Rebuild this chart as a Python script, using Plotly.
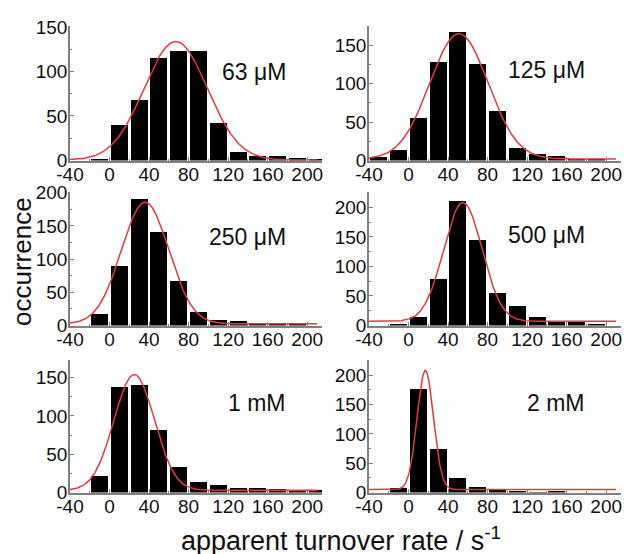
import numpy as np
import plotly.graph_objects as go

# ---------------- data ----------------
bin_start = [-40, -20, 0, 20, 40, 60, 80, 100, 120, 140, 160, 180, 200]
bin_width = 20

labels = ["63 μM", "125 μM", "250 μM", "500 μM", "1 mM", "2 mM"]

counts_63uM = [0, 1.5, 40, 68, 115, 123, 123, 42, 10, 5, 5, 3, 1.5]
counts_125uM = [4, 14, 55, 128, 167, 126, 65, 16, 8, 6, 1, 1, 0]
counts_250uM = [0, 17, 90, 191, 141, 67, 21, 9, 7, 2.5, 2.5, 1.5, 0]
counts_500uM = [0, 1, 14, 78, 211, 144, 55, 33, 15, 6, 6, 1, 0]
counts_1mM = [0, 21, 138, 141, 81, 33, 14, 9.5, 5.5, 5.5, 4.5, 3.5, 3.5]
counts_2mM = [0, 7, 176, 75, 24, 10, 4, 3, 0.5, 3, 0, 0, 0]
all_counts = [counts_63uM, counts_125uM, counts_250uM, counts_500uM, counts_1mM, counts_2mM]

# Gaussian fit parameters
fit_center = [67, 51, 36, 55, 25, 17]
fit_sigma = [32, 29.5, 24, 19.5, 20.5, 8.3]
fit_amp = [133, 163, 183, 201, 151, 203]
fit_base = [0.5, 2, 2.5, 7, 3, 5]
fit_xmin, fit_xmax = -40, 210

y_max = [151, 175, 201, 226, 173, 226]
x_ticks = [-40, 0, 40, 80, 120, 160, 200]
x_ticktext = ["-40", "0", "40", "80", "120", "160", "200"]
x_range = [-40, 215]

# ---------------- layout geometry ----------------
W, H = 624, 554
col_px = [(70, 322), (369, 621)]
row_px = [(26, 160.5), (192, 325.5), (360, 492.5)]
label_y_px = [72, 70, 237, 235, 403, 403]

FONT = "Liberation Sans, Arial, sans-serif"
fig = go.Figure()

for i in range(6):
    r, c = divmod(i, 2)
    sfx = "" if i == 0 else str(i + 1)
    xa, ya = "x" + sfx, "y" + sfx
    centers = [s + bin_width / 2 for s in bin_start]
    fig.add_trace(go.Bar(
        x=centers, y=all_counts[i], width=bin_width * 0.86,
        marker=dict(color="black", line=dict(width=0)),
        xaxis=xa, yaxis=ya, showlegend=False, hoverinfo="x+y"))
    xs = np.linspace(fit_xmin, fit_xmax, 400)
    ys = fit_base[i] + fit_amp[i] * np.exp(-(xs - fit_center[i]) ** 2 / (2 * fit_sigma[i] ** 2))
    fig.add_trace(go.Scatter(
        x=xs, y=ys, mode="lines", line=dict(color="#e8373f", width=1.5),
        xaxis=xa, yaxis=ya, showlegend=False, hoverinfo="skip"))

    x0, x1 = col_px[c]
    t, b = row_px[r]
    axis_common = dict(
        showline=True, linecolor="#808080", linewidth=1.5,
        ticks="inside", ticklen=4, tickwidth=1, tickcolor="#808080",
        showgrid=False, zeroline=False, automargin=False,
        tickfont=dict(family=FONT, size=19, color="#111"),
    )
    fig.layout["xaxis" + sfx] = dict(
        axis_common, domain=[x0 / W, x1 / W], range=x_range,
        tickvals=x_ticks, ticktext=x_ticktext, anchor=ya, ticklabelstandoff=-4,
        minor=dict(dtick=20, tick0=0, ticks="inside", ticklen=2, tickcolor="#808080"),
    )
    fig.layout["yaxis" + sfx] = dict(
        axis_common, domain=[1 - b / H, 1 - t / H], range=[0, y_max[i]],
        dtick=50, anchor=xa, ticklabelstandoff=-3,
        minor=dict(dtick=25, ticks="inside", ticklen=2, tickcolor="#808080"),
    )
    fig.add_annotation(
        text=labels[i], xref=xa, yref="paper", x=181, y=1 - label_y_px[i] / H,
        xanchor="right", yanchor="middle", showarrow=False,
        font=dict(family=FONT, size=23, color="#111"))

fig.add_annotation(
    text="occurrence", xref="paper", yref="paper", x=22 / W, y=1 - 262 / H,
    textangle=-90, showarrow=False, xanchor="center", yanchor="middle",
    font=dict(family=FONT, size=26, color="#111"))
fig.add_annotation(
    text="apparent turnover rate / s<sup>-1</sup>", xref="paper", yref="paper",
    x=341 / W, y=1 - 539 / H, showarrow=False, xanchor="center", yanchor="middle",
    font=dict(family=FONT, size=27, color="#111"))

fig.update_layout(
    width=W, height=H, margin=dict(l=0, r=0, t=0, b=0),
    paper_bgcolor="white", plot_bgcolor="white", bargap=0,
)
fig.write_html(
    "out.html",
    config={"displayModeBar": False},
    post_script="document.body.style.margin='0';document.body.style.overflow='hidden';",
)
